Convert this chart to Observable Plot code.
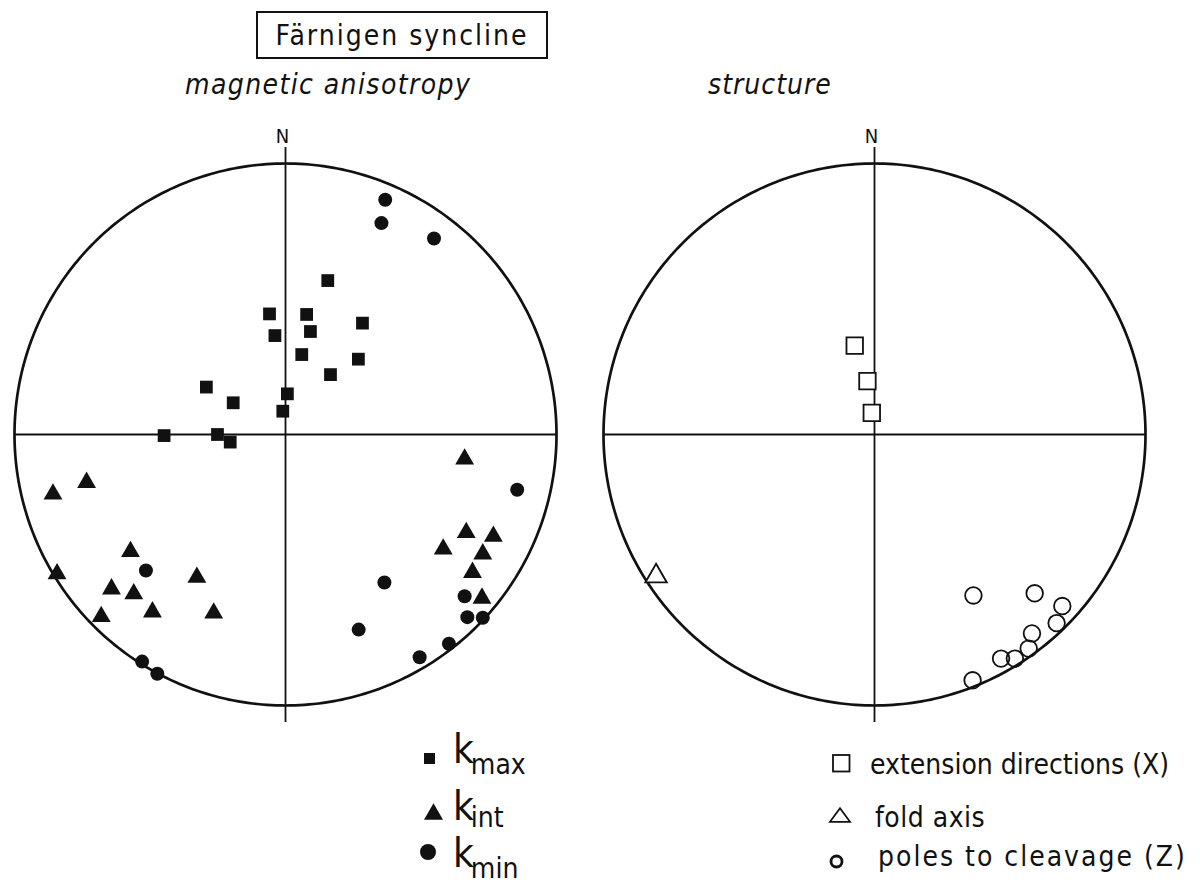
<!DOCTYPE html>
<html>
<head>
<meta charset="utf-8">
<script src="https://cdn.jsdelivr.net/npm/d3@7"></script>
<script src="https://cdn.jsdelivr.net/npm/@observablehq/plot@0.6"></script>
<style>
  html, body { margin: 0; padding: 0; background: #fff; }
  #page { position: relative; width: 1200px; height: 885px; overflow: hidden;
          font-family: "DejaVu Sans Condensed", "DejaVu Sans", sans-serif; font-stretch: condensed; color: #111; }
  .abs { position: absolute; white-space: nowrap; line-height: 1; }
  #title { position: absolute; left: 256px; top: 11px; width: 292px; height: 48px; box-sizing: border-box;
           border: 2px solid #111; text-align: center; font-size: 28px; letter-spacing: 2px;
           line-height: 42px; padding-top: 2px; }
  .sub { font-style: italic; font-size: 28px; }
  #chart { position: absolute; left: 0; top: 110px; }
  .leg { font-size: 28px; }
  .kbig { font-size: 40px; }
  .ksub { font-size: 28px; position: relative; }
</style>
</head>
<body>
<div id="page"></div>
<script>
// ---------- data (net coordinates: x = east, y = north, unit radius) ----------
const panels = ["magnetic anisotropy", "structure"];

const kmax = [
  [0.156, 0.568], [-0.059, 0.445], [0.078, 0.443], [0.284, 0.411],
  [-0.039, 0.365], [0.092, 0.380], [0.060, 0.295], [0.269, 0.278],
  [0.166, 0.221], [-0.292, 0.175], [-0.193, 0.117], [0.007, 0.150],
  [-0.010, 0.086], [-0.448, -0.004], [-0.251, 0.000], [-0.204, -0.028]
];
const kint = [
  [-0.734, -0.177], [-0.858, -0.220], [-0.572, -0.432], [-0.843, -0.514],
  [-0.642, -0.570], [-0.560, -0.588], [-0.327, -0.527], [-0.680, -0.672],
  [-0.491, -0.655], [-0.265, -0.659],
  [0.661, -0.091], [0.667, -0.362], [0.767, -0.376], [0.582, -0.423],
  [0.728, -0.441], [0.690, -0.509], [0.725, -0.604]
];
const kmin = [
  [0.368, 0.866], [0.354, 0.780], [0.548, 0.723],
  [0.855, -0.204], [0.365, -0.546], [0.661, -0.597], [0.671, -0.674],
  [0.728, -0.676], [0.270, -0.720], [0.603, -0.772], [0.495, -0.822],
  [-0.515, -0.502], [-0.529, -0.838], [-0.473, -0.883]
];
const extensionX = [[-0.073, 0.328], [-0.026, 0.197], [-0.010, 0.080]];
const foldAxis = [[-0.806, -0.523]];
const cleavagePolesZ = [
  [0.365, -0.594], [0.591, -0.586], [0.693, -0.633], [0.672, -0.696],
  [0.581, -0.734], [0.569, -0.790], [0.518, -0.827], [0.467, -0.827],
  [0.362, -0.907]
];
const titleText = "Färnigen syncline";
const northLabel = "N";
const magLegend = [
  {symbol: "square", sub: "max"},
  {symbol: "triangle", sub: "int"},
  {symbol: "circle", sub: "min"}
];
const structLegend = [
  {symbol: "square", label: "extension directions (X)"},
  {symbol: "triangle", label: "fold axis"},
  {symbol: "circle", label: "poles to cleavage (Z)"}
];
// vertical N–S line overshoot beyond the primitive circle (net units)
const nsLineExtent = [-1.063, 1.059];

// ---------- chart ----------
const FONT = '"DejaVu Sans Condensed", "DejaVu Sans", sans-serif';
const INK = "#111";
const rows = (pts, panel) => pts.map(([x, y]) => ({panel, x, y}));
const ring = d3.range(0, 361, 1);

const chart = Plot.plot({
  width: 1200,
  height: 630,
  marginLeft: 14,
  marginRight: 54.5,
  marginTop: 53,
  marginBottom: 35,
  fx: {domain: panels, axis: null, paddingInner: 47.5 / 589.5, paddingOuter: 0},
  x: {domain: [-1, 1], axis: null},
  y: {domain: [-1, 1], axis: null},
  style: {fontFamily: FONT, background: "white", overflow: "visible"},
  marks: [
    Plot.line(ring, {x: d => Math.cos(d * Math.PI / 180), y: d => Math.sin(d * Math.PI / 180),
                     stroke: INK, strokeWidth: 2.7}),
    Plot.ruleY([0], {x1: -1, x2: 1, stroke: INK, strokeWidth: 1.8}),
    Plot.ruleX([0], {y1: nsLineExtent[0], y2: nsLineExtent[1], stroke: INK, strokeWidth: 1.8}),
    Plot.text([northLabel], {x: 0, frameAnchor: "top", lineAnchor: "bottom", dy: -21, dx: -3,
                             fontSize: 20, fill: INK}),
    Plot.dot(rows(kmax, panels[0]), {x: "x", y: "y", fx: "panel", symbol: "square", r: 7.2, fill: INK, stroke: null}),
    Plot.dot(rows(kint, panels[0]), {x: "x", y: "y", fx: "panel", symbol: "triangle", r: 7.0, fill: INK, stroke: null}),
    Plot.dot(rows(kmin, panels[0]), {x: "x", y: "y", fx: "panel", symbol: "circle", r: 7.0, fill: INK, stroke: null}),
    Plot.dot(rows(extensionX, panels[1]), {x: "x", y: "y", fx: "panel", symbol: "square", r: 9.3,
                                           fill: "white", stroke: INK, strokeWidth: 1.8}),
    Plot.dot(rows(foldAxis, panels[1]), {x: "x", y: "y", fx: "panel", symbol: "triangle", r: 8.0,
                                         fill: "white", stroke: INK, strokeWidth: 1.8}),
    Plot.dot(rows(cleavagePolesZ, panels[1]), {x: "x", y: "y", fx: "panel", symbol: "circle", r: 8.3,
                                               fill: "none", stroke: INK, strokeWidth: 1.8})
  ]
});
chart.id = "chart";

// ---------- page layout ----------
const page = document.getElementById("page");
function el(tag, cls, css, text) {
  const e = document.createElement(tag);
  if (cls) e.className = cls;
  if (css) e.style.cssText = css;
  if (text != null) e.textContent = text;
  page.appendChild(e);
  return e;
}
const title = el("div", null, null, titleText);
title.id = "title";
el("div", "abs sub", "left:185px; top:71px; letter-spacing:1.4px;", panels[0]);
el("div", "abs sub", "left:708px; top:71px; letter-spacing:1px;", panels[1]);
page.appendChild(chart);

const NS = "http://www.w3.org/2000/svg";
function symbolSvg(kind, cx, cy, size, filled, sw) {
  const w = size + 8;
  const s = document.createElementNS(NS, "svg");
  s.setAttribute("width", w); s.setAttribute("height", w);
  s.style.cssText = `position:absolute; left:${cx - w / 2}px; top:${cy - w / 2}px; overflow:visible;`;
  const c = w / 2;
  let shape;
  if (kind === "square") {
    shape = document.createElementNS(NS, "rect");
    shape.setAttribute("x", c - size / 2); shape.setAttribute("y", c - size / 2);
    shape.setAttribute("width", size); shape.setAttribute("height", size);
  } else if (kind === "triangle") {
    shape = document.createElementNS(NS, "path");
    const h = filled ? size * 0.866 : size * 0.68;
    shape.setAttribute("d", `M${c},${c - h / 2}L${c + size / 2},${c + h / 2}L${c - size / 2},${c + h / 2}Z`);
  } else {
    shape = document.createElementNS(NS, "circle");
    shape.setAttribute("cx", c); shape.setAttribute("cy", c); shape.setAttribute("r", size / 2);
  }
  shape.setAttribute("fill", filled ? INK : "none");
  shape.setAttribute("stroke", filled ? "none" : INK);
  if (!filled) shape.setAttribute("stroke-width", sw);
  s.appendChild(shape);
  page.appendChild(s);
}

// left legend (k_max, k_int, k_min)
const magRows = [
  {sx: 429.5, sy: 758.5, size: 11, base: 763, shift: 11},
  {sx: 433, sy: 811, size: 19, base: 820, shift: 7},
  {sx: 428, sy: 852, size: 16, base: 867, shift: 11}
];
magLegend.forEach((d, i) => {
  const p = magRows[i];
  symbolSvg(d.symbol, p.sx, p.sy, p.size, true, 0);
  const row = el("div", "abs kbig", `left:453px; top:${p.base - 34}px;`);
  row.textContent = "k";
  const sub = document.createElement("span");
  sub.className = "ksub";
  sub.style.top = `${p.shift}px`;
  sub.style.marginLeft = "-3px";
  sub.textContent = d.sub;
  row.appendChild(sub);
});

// right legend
const structRows = [
  {sx: 841.5, sy: 763.5, size: 16.5, sw: 1.8, left: 870, base: 775, ls: 0},
  {sx: 840, sy: 815, size: 20, sw: 1.8, left: 875, base: 828, ls: 0.5},
  {sx: 836.5, sy: 861, size: 11, sw: 2.8, left: 878, base: 867, ls: 2}
];
structLegend.forEach((d, i) => {
  const p = structRows[i];
  symbolSvg(d.symbol, p.sx, p.sy, p.size, false, p.sw);
  el("div", "abs leg", `left:${p.left}px; top:${p.base - 23.7}px; letter-spacing:${p.ls}px;`, d.label);
});
</script>
</body>
</html>
